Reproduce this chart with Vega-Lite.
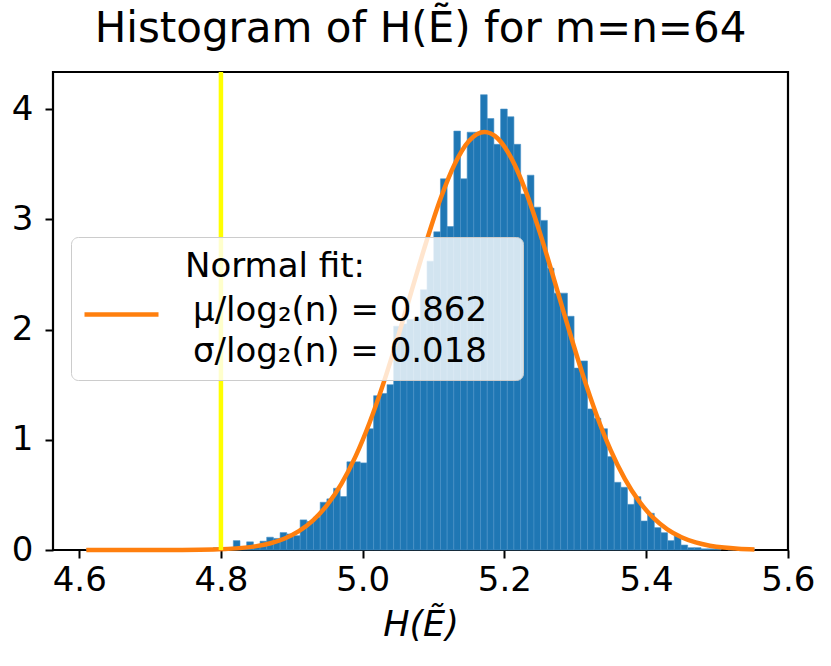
{
  "$schema": "https://vega.github.io/schema/vega-lite/v6.json",
  "width": 735,
  "height": 478,
  "autosize": {"type": "none"},
  "padding": {"left": 53, "top": 72, "right": 43, "bottom": 116},
  "background": "white",
  "config": {
    "font": "DejaVu Sans",
    "view": {"stroke": "black", "strokeWidth": 2.2}
  },
  "title": {
    "text": "Histogram of H(Ẽ) for m=n=64",
    "font": "DejaVu Sans",
    "fontSize": 42,
    "fontWeight": "normal",
    "color": "black",
    "anchor": "middle",
    "baseline": "alphabetic",
    "offset": -14
  },
  "layer": [
    {
      "data": {
        "values": [
          {"b0": 4.6100, "b1": 4.6194, "h": 0.0106},
          {"b0": 4.7420, "b1": 4.7515, "h": 0.0106},
          {"b0": 4.7797, "b1": 4.7892, "h": 0.0106},
          {"b0": 4.7892, "b1": 4.7986, "h": 0.021},
          {"b0": 4.7986, "b1": 4.8080, "h": 0.0106},
          {"b0": 4.8080, "b1": 4.8175, "h": 0.0106},
          {"b0": 4.8175, "b1": 4.8269, "h": 0.085},
          {"b0": 4.8269, "b1": 4.8363, "h": 0.021},
          {"b0": 4.8363, "b1": 4.8458, "h": 0.074},
          {"b0": 4.8458, "b1": 4.8552, "h": 0.042},
          {"b0": 4.8552, "b1": 4.8646, "h": 0.080},
          {"b0": 4.8646, "b1": 4.8740, "h": 0.116},
          {"b0": 4.8740, "b1": 4.8835, "h": 0.105},
          {"b0": 4.8835, "b1": 4.8929, "h": 0.158},
          {"b0": 4.8929, "b1": 4.9023, "h": 0.145},
          {"b0": 4.9023, "b1": 4.9118, "h": 0.13},
          {"b0": 4.9118, "b1": 4.9212, "h": 0.273},
          {"b0": 4.9212, "b1": 4.9306, "h": 0.258},
          {"b0": 4.9306, "b1": 4.9401, "h": 0.297},
          {"b0": 4.9401, "b1": 4.9495, "h": 0.433},
          {"b0": 4.9495, "b1": 4.9589, "h": 0.464},
          {"b0": 4.9589, "b1": 4.9683, "h": 0.56},
          {"b0": 4.9683, "b1": 4.9778, "h": 0.485},
          {"b0": 4.9778, "b1": 4.9872, "h": 0.80},
          {"b0": 4.9872, "b1": 4.9966, "h": 0.80},
          {"b0": 4.9966, "b1": 5.0061, "h": 0.79},
          {"b0": 5.0061, "b1": 5.0155, "h": 1.10},
          {"b0": 5.0155, "b1": 5.0249, "h": 1.40},
          {"b0": 5.0249, "b1": 5.0344, "h": 1.42},
          {"b0": 5.0344, "b1": 5.0438, "h": 1.50},
          {"b0": 5.0438, "b1": 5.0532, "h": 2.03},
          {"b0": 5.0532, "b1": 5.0626, "h": 2.05},
          {"b0": 5.0626, "b1": 5.0721, "h": 2.09},
          {"b0": 5.0721, "b1": 5.0815, "h": 2.10},
          {"b0": 5.0815, "b1": 5.0909, "h": 2.36},
          {"b0": 5.0909, "b1": 5.1004, "h": 2.62},
          {"b0": 5.1004, "b1": 5.1098, "h": 2.886},
          {"b0": 5.1098, "b1": 5.1192, "h": 3.367},
          {"b0": 5.1192, "b1": 5.1287, "h": 2.934},
          {"b0": 5.1287, "b1": 5.1381, "h": 3.80},
          {"b0": 5.1381, "b1": 5.1475, "h": 3.367},
          {"b0": 5.1475, "b1": 5.1569, "h": 3.79},
          {"b0": 5.1569, "b1": 5.1664, "h": 3.79},
          {"b0": 5.1664, "b1": 5.1758, "h": 4.13},
          {"b0": 5.1758, "b1": 5.1852, "h": 3.914},
          {"b0": 5.1852, "b1": 5.1947, "h": 3.68},
          {"b0": 5.1947, "b1": 5.2041, "h": 4.0},
          {"b0": 5.2041, "b1": 5.2135, "h": 3.93},
          {"b0": 5.2135, "b1": 5.2230, "h": 3.68},
          {"b0": 5.2230, "b1": 5.2324, "h": 3.23},
          {"b0": 5.2324, "b1": 5.2418, "h": 3.40},
          {"b0": 5.2418, "b1": 5.2512, "h": 3.11},
          {"b0": 5.2512, "b1": 5.2607, "h": 2.99},
          {"b0": 5.2607, "b1": 5.2701, "h": 2.556},
          {"b0": 5.2701, "b1": 5.2795, "h": 2.33},
          {"b0": 5.2795, "b1": 5.2890, "h": 2.33},
          {"b0": 5.2890, "b1": 5.2984, "h": 2.12},
          {"b0": 5.2984, "b1": 5.3078, "h": 1.65},
          {"b0": 5.3078, "b1": 5.3173, "h": 1.715},
          {"b0": 5.3173, "b1": 5.3267, "h": 1.28},
          {"b0": 5.3267, "b1": 5.3361, "h": 1.195},
          {"b0": 5.3361, "b1": 5.3455, "h": 1.10},
          {"b0": 5.3455, "b1": 5.3550, "h": 0.847},
          {"b0": 5.3550, "b1": 5.3644, "h": 0.614},
          {"b0": 5.3644, "b1": 5.3738, "h": 0.569},
          {"b0": 5.3738, "b1": 5.3833, "h": 0.414},
          {"b0": 5.3833, "b1": 5.3927, "h": 0.484},
          {"b0": 5.3927, "b1": 5.4021, "h": 0.263},
          {"b0": 5.4021, "b1": 5.4116, "h": 0.333},
          {"b0": 5.4116, "b1": 5.4210, "h": 0.203},
          {"b0": 5.4210, "b1": 5.4304, "h": 0.157},
          {"b0": 5.4304, "b1": 5.4398, "h": 0.085},
          {"b0": 5.4398, "b1": 5.4493, "h": 0.127},
          {"b0": 5.4493, "b1": 5.4587, "h": 0.045},
          {"b0": 5.4587, "b1": 5.4681, "h": 0.021},
          {"b0": 5.4681, "b1": 5.4776, "h": 0.021},
          {"b0": 5.4776, "b1": 5.4870, "h": 0.0106},
          {"b0": 5.4870, "b1": 5.4964, "h": 0.0106},
          {"b0": 5.4964, "b1": 5.5059, "h": 0.0106},
          {"b0": 5.5153, "b1": 5.5247, "h": 0.0106},
          {"b0": 5.5436, "b1": 5.5530, "h": 0.0106}
        ]
      },
      "mark": {"type": "rect", "color": "#1f77b4", "stroke": "#4a92c8", "strokeWidth": 0.6},
      "encoding": {
        "x": {
          "field": "b0",
          "type": "quantitative",
          "title": "H(Ẽ)",
          "scale": {"domain": [4.563, 5.6003], "nice": false, "zero": false},
          "axis": {
            "values": [4.6, 4.8, 5.0, 5.2, 5.4, 5.6],
            "format": ".1f",
            "grid": false,
            "domain": false,
            "tickColor": "black",
            "tickWidth": 2,
            "tickSize": 8,
            "labelFontSize": 34,
            "labelColor": "black",
            "labelPadding": 5,
            "labelFlush": false,
            "titleFontSize": 35,
            "titleFontWeight": "normal",
            "titleFontStyle": "italic",
            "titleColor": "black",
            "titlePadding": 10
          }
        },
        "x2": {"field": "b1"},
        "y": {
          "field": "h",
          "type": "quantitative",
          "title": null,
          "scale": {"domain": [0, 4.336], "nice": false},
          "axis": {
            "values": [0, 1, 2, 3, 4],
            "format": "d",
            "grid": false,
            "domain": false,
            "tickColor": "black",
            "tickWidth": 2,
            "tickSize": 8,
            "labelFontSize": 34,
            "labelColor": "black",
            "labelPadding": 12,
            "labelFlush": false
          }
        },
        "y2": {"datum": 0}
      }
    },
    {
      "data": {
        "values": [
          {"x": 4.61, "pdf": 0.0000024},
          {"x": 4.65, "pdf": 0.000017},
          {"x": 4.69, "pdf": 0.0001},
          {"x": 4.73, "pdf": 0.00056},
          {"x": 4.77, "pdf": 0.00256},
          {"x": 4.79, "pdf": 0.0052},
          {"x": 4.81, "pdf": 0.0102},
          {"x": 4.83, "pdf": 0.0192},
          {"x": 4.85, "pdf": 0.0350},
          {"x": 4.87, "pdf": 0.0616},
          {"x": 4.89, "pdf": 0.1043},
          {"x": 4.91, "pdf": 0.1706},
          {"x": 4.93, "pdf": 0.2690},
          {"x": 4.95, "pdf": 0.4093},
          {"x": 4.97, "pdf": 0.5999},
          {"x": 4.99, "pdf": 0.8488},
          {"x": 5.01, "pdf": 1.1585},
          {"x": 5.03, "pdf": 1.5249},
          {"x": 5.05, "pdf": 1.9356},
          {"x": 5.07, "pdf": 2.3702},
          {"x": 5.09, "pdf": 2.7987},
          {"x": 5.11, "pdf": 3.1877},
          {"x": 5.13, "pdf": 3.5017},
          {"x": 5.15, "pdf": 3.7103},
          {"x": 5.172, "pdf": 3.7922},
          {"x": 5.19, "pdf": 3.7372},
          {"x": 5.21, "pdf": 3.5526},
          {"x": 5.23, "pdf": 3.2575},
          {"x": 5.25, "pdf": 2.8810},
          {"x": 5.27, "pdf": 2.4574},
          {"x": 5.29, "pdf": 2.0216},
          {"x": 5.31, "pdf": 1.6041},
          {"x": 5.33, "pdf": 1.2275},
          {"x": 5.35, "pdf": 0.9060},
          {"x": 5.37, "pdf": 0.6451},
          {"x": 5.39, "pdf": 0.4429},
          {"x": 5.41, "pdf": 0.2934},
          {"x": 5.43, "pdf": 0.1874},
          {"x": 5.45, "pdf": 0.1155},
          {"x": 5.47, "pdf": 0.0686},
          {"x": 5.49, "pdf": 0.0393},
          {"x": 5.51, "pdf": 0.0217},
          {"x": 5.53, "pdf": 0.0116},
          {"x": 5.553, "pdf": 0.0054}
        ]
      },
      "mark": {"type": "line", "strokeWidth": 4.5, "interpolate": "monotone"},
      "encoding": {
        "x": {"field": "x", "type": "quantitative", "title": "H(Ẽ)"},
        "y": {"field": "pdf", "type": "quantitative", "title": null},
        "stroke": {
          "datum": "μ/log₂(n) = 0.862\u2800|σ/log₂(n) = 0.018",
          "type": "nominal",
          "scale": {"range": ["#ff7f0e"]},
          "legend": {
            "orient": "none",
            "legendX": 18,
            "legendY": 165,
            "title": "Normal fit:",
            "titleFont": "DejaVu Sans",
            "titleFontSize": 34,
            "titleFontWeight": "normal",
            "titleColor": "black",
            "titleAnchor": "start",
            "titleBaseline": "top",
            "titleLimit": 1000,
            "titlePadding": -7,
            "fillColor": "rgba(255,255,255,0.8)",
            "strokeColor": "#cccccc",
            "cornerRadius": 7,
            "padding": 11,
            "symbolType": "stroke",
            "symbolSize": 5476,
            "symbolStrokeWidth": 4.5,
            "symbolStrokeColor": "#ff7f0e",
            "labelFontSize": 34,
            "labelColor": "black",
            "labelLimit": 1000,
            "labelOffset": 32,
            "labelExpr": "split(datum.label, '|')",
            "encode": {
              "labels": {"update": {"lineHeight": {"value": 41}, "dy": {"value": -4}}},
              "title": {"update": {"dx": {"value": 103}, "dy": {"value": 2}}}
            }
          }
        }
      }
    },
    {
      "data": {"values": [{"threshold": 4.8}]},
      "mark": {"type": "rule", "color": "#ffff00", "strokeWidth": 4.5},
      "encoding": {"x": {"field": "threshold", "type": "quantitative", "title": "H(Ẽ)"}}
    }
  ]
}
